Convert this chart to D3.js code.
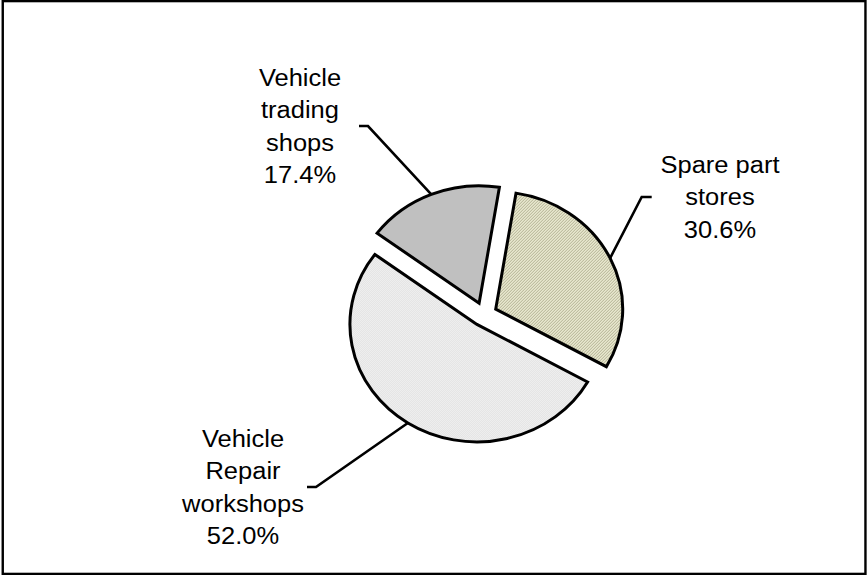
<!DOCTYPE html>
<html>
<head>
<meta charset="utf-8">
<script src="https://cdn.jsdelivr.net/npm/d3@7"></script>
<style>
  html, body { margin: 0; padding: 0; background: #fff; }
  svg { display: block; }
</style>
</head>
<body>
<svg id="chart" width="867" height="575"></svg>
<script>
// ---- data ----
const categories = ["Spare part stores", "Vehicle Repair workshops", "Vehicle trading shops"];
const labelLines = [["Spare part", "stores"], ["Vehicle", "Repair", "workshops"], ["Vehicle", "trading", "shops"]];
const values = [30.6, 52.0, 17.4];
const valueLabels = ["30.6%", "52.0%", "17.4%"];

// ---- layout ----
const W = 867, H = 575;
const cx = 484, cy = 314.3;      // pie centre
const R = 127;                   // radius (horizontal)
const ky = 0.925;                // vertical squash of the picture
const explode = 13;
const startDeg = 9.2;
const fontSize = 25.5;
const lineGap = 32.5;
const fills = ["url(#hatchKhaki)", "url(#dotsGray)", "#c0c0c0"];
// label block: centre x, centre y, stub [x1,x2] at centre y
const labelPos = [
  { x: 720, y: 197, stub: [651.7, 641.7] },
  { x: 243, y: 487, stub: [307, 316] },
  { x: 300, y: 126, stub: [359, 368] }
];

const svg = d3.select("#chart");
const defs = svg.append("defs");
const unsquash = `scale(1,${1 / ky})`;

// khaki diagonal hatch
const p1 = defs.append("pattern").attr("id", "hatchKhaki")
  .attr("patternUnits", "userSpaceOnUse").attr("width", 3).attr("height", 3)
  .attr("patternTransform", unsquash);
p1.append("rect").attr("width", 3).attr("height", 3).attr("fill", "#ecebd2");
p1.append("path").attr("d", "M0,3 L3,0 M-1,1 L1,-1 M2,4 L4,2")
  .attr("stroke", "#a9a98a").attr("stroke-width", 1);

// fine gray dots
const p2 = defs.append("pattern").attr("id", "dotsGray")
  .attr("patternUnits", "userSpaceOnUse").attr("width", 2).attr("height", 2)
  .attr("patternTransform", unsquash);
p2.append("rect").attr("width", 2).attr("height", 2).attr("fill", "#ffffff");
p2.append("rect").attr("width", 1).attr("height", 1).attr("fill", "#d4d4d4");
p2.append("rect").attr("x", 1).attr("y", 1).attr("width", 1).attr("height", 1).attr("fill", "#d4d4d4");

// border
svg.append("rect").attr("x", 2.75).attr("y", 1.1).attr("width", 862.7).attr("height", 572.8)
  .attr("fill", "none").attr("stroke", "#000").attr("stroke-width", 2.4);

const pie = d3.pie().sort(null)
  .startAngle(startDeg * Math.PI / 180)
  .endAngle(startDeg * Math.PI / 180 + 2 * Math.PI);
const arcs = pie(values);
const arc = d3.arc().innerRadius(0).outerRadius(R);

const g = svg.append("g").attr("transform", `translate(${cx},${cy}) scale(1,${ky})`);

g.selectAll("path.slice").data(arcs).join("path")
  .attr("class", "slice")
  .attr("transform", d => {
    const m = (d.startAngle + d.endAngle) / 2;
    return `translate(${explode * Math.sin(m)},${-explode * Math.cos(m)})`;
  })
  .attr("d", arc)
  .attr("fill", (d, i) => fills[i])
  .attr("stroke", "#000")
  .attr("stroke-width", 3)
  .attr("stroke-linejoin", "miter")
  .attr("vector-effect", "non-scaling-stroke");

// leader lines (screen coordinates)
function arcMid(d) {
  const m = (d.startAngle + d.endAngle) / 2;
  const r = explode + R;
  return [cx + r * Math.sin(m), cy - r * Math.cos(m) * ky];
}
arcs.forEach((d, i) => {
  const lp = labelPos[i];
  const [ax, ay] = arcMid(d);
  svg.append("polyline")
    .attr("points", `${lp.stub[0]},${lp.y} ${lp.stub[1]},${lp.y} ${ax},${ay}`)
    .attr("fill", "none").attr("stroke", "#000").attr("stroke-width", 2.6)
    .attr("stroke-linejoin", "miter");
});

// labels
const capHalf = 0.716 * fontSize * ky / 2;
arcs.forEach((d, i) => {
  const lp = labelPos[i];
  const lines = labelLines[i].concat([valueLabels[i]]);
  const n = lines.length;
  lines.forEach((t, j) => {
    const yc = lp.y + (j - (n - 1) / 2) * lineGap;
    svg.append("text")
      .attr("transform", `translate(${lp.x},${yc + capHalf}) scale(1,${ky})`)
      .attr("text-anchor", "middle")
      .attr("font-family", "'Liberation Sans', Arial, sans-serif")
      .attr("font-size", fontSize)
      .attr("fill", "#000")
      .text(t);
  });
});
</script>
</body>
</html>
